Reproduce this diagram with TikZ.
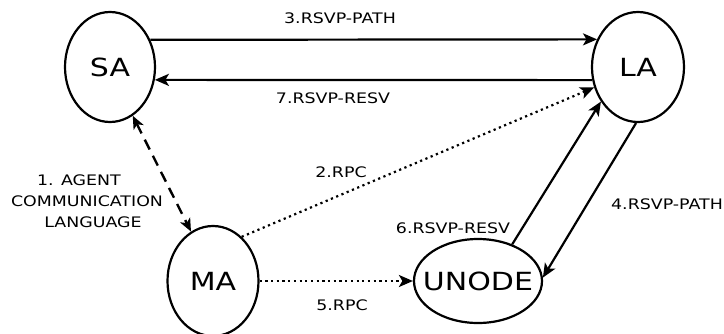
\documentclass[tikz,border=0pt]{standalone}
\usepackage{fontspec}
\setmainfont[FakeStretch=1.2]{DejaVu Sans}
\usetikzlibrary{shapes.geometric,arrows.meta}
\begin{document}
\begin{tikzpicture}[x=1pt,y=-1pt,
  agent/.style={ellipse,draw,line width=2.2pt,inner sep=0pt,font=\fontsize{25}{29}\selectfont},
  lbl/.style={font=\fontsize{14.5}{21}\selectfont,inner sep=0pt,align=center},
  conn/.style={line width=2.2pt},
  tip/.style={-{Stealth[length=14pt,width=12pt,inset=3.5pt]}},
  dotline/.style={conn,dash pattern=on 2.2pt off 3.5pt},
  dashline/.style={line width=2.4pt,dash pattern=on 11pt off 7pt}
]
\useasboundingbox (0,0) rectangle (724,333);
\clip (0,0) rectangle (724,333);

\node[agent,minimum width=90pt,minimum height=110pt] (SA) at (110,67) {\makebox[0pt]{SA}};
\node[agent,minimum width=92pt,minimum height=110pt] (LA) at (638,67) {\makebox[0pt]{LA}};
\node[agent,minimum width=91pt,minimum height=110pt] (MA) at (213,281) {\makebox[0pt]{MA}};
\node[agent,minimum width=128pt,minimum height=84pt] (UN) at (478,281) {\makebox[0pt]{UNODE}};

\draw[conn,tip] (SA.34) -- (LA.146);
\draw[conn,tip] (LA.196) -- (SA.-16);
\draw[dotline,tip] (MA.57) -- (LA.205);
\draw[dashline,{Stealth[length=13pt,width=11pt,inset=3.5pt]}-{Stealth[length=13pt,width=11pt,inset=3.5pt]}] (SA.-65) -- (MA.114);
\draw[dotline,tip] (MA.east) -- (UN.west);
\draw[conn,tip] (UN.47) -- (LA.223);
\draw[conn,tip] (LA.268) -- (UN.3);

\node[lbl] (l3) at (340,18) {3.RSVP-PATH};
\node[lbl] (l7) at (333,98) {7.RSVP-RESV};
\node[lbl] (l2) at (341,172) {2.RPC};
\node[lbl] (l1) at (87,201) {1. AGENT\hspace*{16pt}\\COMMUNICATION\\\hspace*{12pt}LANGUAGE};
\node[lbl] (l5) at (342,305) {5.RPC};
\node[lbl] (l6) at (453,228) {6.RSVP-RESV};
\node[lbl] (l4) at (667,204) {4.RSVP-PATH};
\end{tikzpicture}
\end{document}
